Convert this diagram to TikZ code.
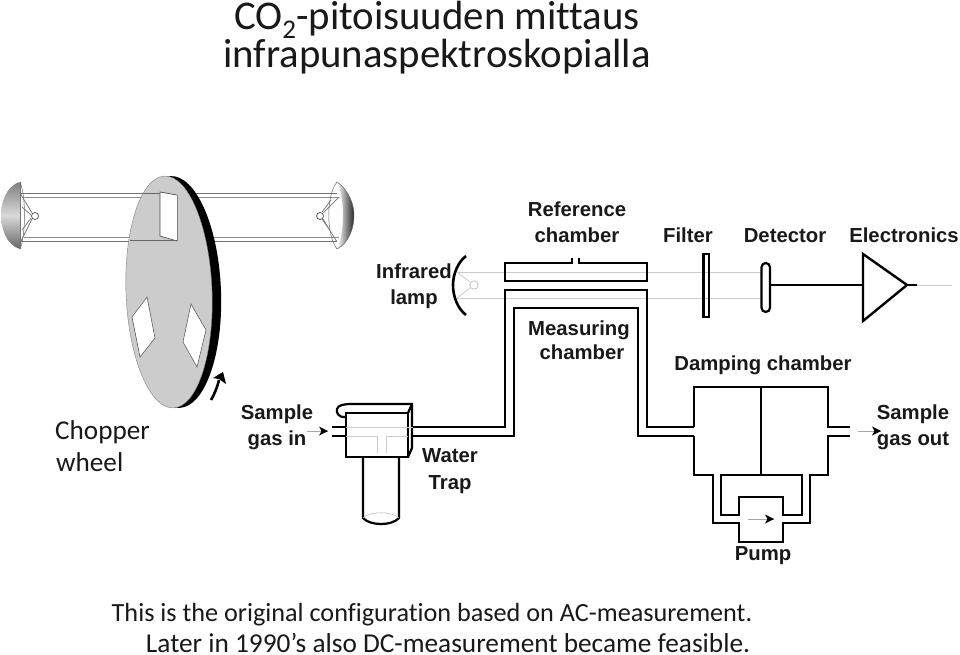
\documentclass[tikz,border=0pt]{standalone}
\usepackage{fontspec}
\setmainfont{Carlito}[Ligatures=NoCommon]
\newfontfamily\lab{Liberation Sans}[BoldFont={Liberation Sans Bold}]
\usetikzlibrary{arrows.meta}
\newcommand{\flowarrow}[2]{%
  \draw[flow] (#1) -- (#2);
  \fill[black] (#2) -- ++(-9,-4.5) -- ++(2.5,4.5) -- ++(-2.5,4.5) -- cycle;}
\tikzset{
  x=1pt,y=-1pt,
  pipe/.style={line width=2.6pt,black,line join=miter},
  ghost/.style={line width=0.8pt,black!20},
  thin box/.style={line width=0.6pt,black!70},
  lbl/.style={font=\lab\bfseries\fontsize{20.3}{24}\selectfont,anchor=base,inner sep=0pt,text=black!90},
  cap text/.style={font=\fontsize{26.2}{30}\selectfont,anchor=base,inner sep=0pt,text=black!90},
  title text/.style={font=\fontsize{40.8}{42}\selectfont,anchor=base,inner sep=0pt,text=black!90},
  flow/.style={line width=0.7pt,black!35}
}
\begin{document}
\begin{tikzpicture}
\useasboundingbox (0,0) rectangle (960,655);
\fill[white] (0,0) rectangle (960,655);
% titles
\node[title text] (t1) at (437,30) {CO\raisebox{-9pt}{\fontsize{27}{28}\selectfont 2}-pitoisuuden mittaus};
\node[title text] (t2) at (437,68) {infrapunaspektroskopialla};
\node[cap text] (b1) at (432,621) {This is the original configuration based on AC-measurement.};
\node[cap text,font=\fontsize{27.3}{30}\selectfont] (b2) at (448,652) {Later in 1990’s also DC-measurement became feasible.};
\node[cap text,font=\fontsize{27.2}{30}\selectfont,anchor=base west] (c1) at (55,439) {Chopper};
\node[cap text,font=\fontsize{27.2}{30}\selectfont,anchor=base west] (c2) at (56,471) {wheel};
% beams behind wheel
\draw[line width=1pt,black!55] (20,193) -- (337,193) (20,241) -- (337,241);
\draw[line width=0.8pt,black!45] (24,197) -- (339,197) (24,237) -- (339,237);
% left mirror
\shade[top color=black!50,bottom color=black!60,middle color=black!15] (20,182) .. controls (5,186) and (1,205) .. (1,215) .. controls (1,228) and (6,245) .. (20,249) -- cycle;
\draw[line width=0.5pt,black!60] (20,182) .. controls (26,195) and (26,235) .. (20,249);
\draw[line width=1pt,black!55] (20,182) -- (20,249);
\draw[line width=0.7pt,black!55] (20,193) -- (32,213) (20,243) -- (32,219) (22,207) -- (31,215) (22,230) -- (31,218);
\node[draw=black!70,fill=white,circle,line width=0.7pt,minimum size=7pt,inner sep=0pt] (lampL) at (35,216) {};
% right mirror
\shade[left color=white,right color=black!85] (337,182) .. controls (349,190) and (354,205) .. (354,215) .. controls (354,228) and (349,243) .. (337,249) .. controls (341,240) and (343,228) .. (343,215) .. controls (343,203) and (341,190) .. (337,182) -- cycle;
\draw[line width=0.5pt,black!60] (337,182) .. controls (326,195) and (326,235) .. (337,249);
\draw[line width=0.5pt,black!60] (337,182) .. controls (349,190) and (354,205) .. (354,215) .. controls (354,228) and (349,243) .. (337,249);
\draw[line width=0.7pt,black!55] (339,197) -- (323,213) (337,242) -- (323,219) (331,200) -- (322,212) (331,232) -- (322,219);
\node[draw=black!70,fill=white,circle,line width=0.7pt,minimum size=7pt,inner sep=0pt] (lampR) at (320,216) {};
% wheel
\fill[black,rotate around={2.2:(175,292)}] (175,292) ellipse [x radius=46,y radius=116];
\fill[black!20,rotate around={2.2:(169,292)}] (169,292) ellipse [x radius=43,y radius=116];
\draw[line width=0.4pt,black!50,rotate around={2.2:(169,292)}] (169,292) ellipse [x radius=43,y radius=116];
% window
\fill[white] (160,192) -- (177,195) -- (177,241) -- (160,236) -- cycle;
\draw[line width=0.7pt,black!70] (177,195) -- (160,192) -- (160,236) -- (177,241);
\draw[line width=1pt,black!60] (143,193) -- (160,193) (130,240) -- (177,240);
\draw[line width=0.5pt,black!50] (177,241) -- (177,195);
% diamonds
\draw[thin box,fill=white,line width=0.5pt] (147,297) -- (155,338) -- (140,357) -- (132,317) -- cycle;
\draw[thin box,fill=white,line width=0.5pt] (191,304) -- (206,330) -- (197,367) -- (183,342) -- cycle;
% rotation arrow
\coordinate (rotA) at (211,400);
\coordinate (rotB) at (219,380);
\draw[line width=2.6pt,black] (rotA) .. controls (214,395) and (217,388) .. (rotB);
\fill[black] (223,372) -- (213,378) -- (219,379) -- (226,384) -- cycle;
% lamp
\draw[ghost] (457,272) -- (761,272) (457,298) -- (761,298);
\draw[ghost] (457,272) -- (470,282) (457,298) -- (470,288);
\node[draw=black!25,circle,line width=0.8pt,minimum size=8.5pt,inner sep=0pt] (lamp) at (474,285) {};
\draw[pipe] (466,256) .. controls (458,262) and (453,274) .. (453,285) .. controls (453,297) and (458,309) .. (466,315);
% reference chamber
\draw[pipe] (572,258) -- (572,263) -- (505,263) -- (505,281) -- (647,281) -- (647,263) -- (579,263) -- (579,258);
% measuring chamber
\draw[pipe] (413,427) -- (505,427) -- (505,290) -- (647,290) -- (647,427) -- (694,427);
\draw[pipe] (413,436) -- (514,436) -- (514,308) -- (638,308) -- (638,436) -- (694,436);
% water trap
\draw[pipe,line width=2.2pt] (363,457) -- (363,518) .. controls (370,526) and (392,526) .. (399,518) -- (399,457);
\draw[line width=0.6pt,black!25] (363,518) .. controls (370,511) and (392,511) .. (399,518);
\draw[pipe,line width=2.2pt] (332,427) -- (346,427) (332,436) -- (346,436);
\draw[pipe,line width=2.2pt] (346,417) .. controls (338,418) and (336,412) .. (337,409) .. controls (338,405) and (344,404) .. (352,404) -- (412,404) -- (412,448) -- (408,457);
\draw[pipe,line width=2.2pt] (346,413) rectangle (408,457);
\draw[pipe,line width=2.2pt] (408,413) -- (412,404);
\draw[ghost] (346,427) -- (413,427);
\draw[ghost] (346,436) -- (377,436) -- (377,453) (386,453) -- (386,436) -- (408,436);
% filter, detector, amplifier
\draw[pipe,line width=2.2pt] (703.5,254) rectangle (709,317);
\node[draw=black,fill=white,line width=2.2pt,rounded corners=4.2pt,minimum width=8.5pt,minimum height=49pt,inner sep=0pt] (det) at (765.75,287.5) {};
\coordinate (ampIn) at (863,285);
\coordinate (ampTip) at (907,285);
\coordinate (ampEnd) at (917,285);
\coordinate (ampFar) at (952,285);
\draw[pipe,line width=2.2pt] (det.east |- ampIn) -- (ampIn);
\draw[pipe,line width=2.4pt,line join=miter] (863,254) -- (ampTip) -- (863,321) -- cycle;
\draw[pipe,line width=2.2pt] (ampTip) -- (ampEnd);
\draw[ghost] (ampEnd) -- (ampFar);
% damping chamber
\draw[pipe] (694,427) -- (694,387) -- (828,387) -- (828,427) -- (850,427);
\draw[pipe] (694,436) -- (694,475) -- (713,475) -- (713,523) -- (739,523) -- (739,542) -- (783,542) -- (783,523) -- (810,523) -- (810,475) -- (828,475) -- (828,436) -- (850,436);
\draw[pipe,line width=2.2pt] (761,387) -- (761,475);
\draw[pipe] (721,475) -- (721,515) -- (739,515) -- (739,497) -- (783,497) -- (783,515) -- (802,515) -- (802,475) -- cycle;
% flow arrows
\coordinate (inA) at (307,431); \coordinate (inB) at (328,431);
\coordinate (outA) at (858,431); \coordinate (outB) at (881,431);
\coordinate (pumpA) at (748,519); \coordinate (pumpB) at (774,519);
\flowarrow{inA}{inB}
\flowarrow{outA}{outB}
\flowarrow{pumpA}{pumpB}
% labels
\node[lbl] (n1) at (577,216) {Reference};
\node[lbl] (n2) at (577,242) {chamber};
\node[lbl] (n3) at (688,242) {Filter};
\node[lbl] (n4) at (785,242) {Detector};
\node[lbl] (n5) at (904,242) {Electronics};
\node[lbl] (n6) at (414,278) {Infrared};
\node[lbl] (n7) at (414,304) {lamp};
\node[lbl] (n8) at (579,335) {Measuring};
\node[lbl] (n9) at (582,359) {chamber};
\node[lbl] (n10) at (763,370) {Damping chamber};
\node[lbl] (n11) at (277,419) {Sample};
\node[lbl] (n12) at (277,445) {gas in};
\node[lbl] (n13) at (450,462) {Water};
\node[lbl] (n14) at (450,489) {Trap};
\node[lbl] (n15) at (913,419) {Sample};
\node[lbl] (n16) at (913,445) {gas out};
\node[lbl] (n17) at (763,560) {Pump};
\end{tikzpicture}
\end{document}
